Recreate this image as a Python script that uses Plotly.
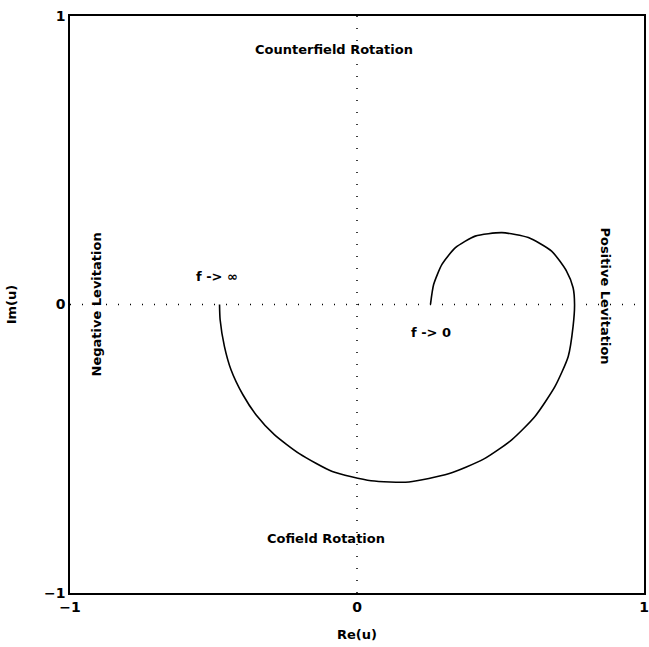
import plotly.graph_objects as go

# Curve u(f): real and imaginary parts, from f -> 0 (start) to f -> infinity (end)
re_u = [0.256, 0.267, 0.296, 0.343, 0.412, 0.505, 0.597, 0.678, 0.730, 0.753, 0.758,
        0.753, 0.736, 0.690, 0.620, 0.539, 0.441, 0.319, 0.181, 0.049, -0.086,
        -0.201, -0.288, -0.352, -0.398, -0.439, -0.462, -0.477, -0.479]
im_u = [0.0, 0.069, 0.139, 0.197, 0.237, 0.249, 0.232, 0.185, 0.116, 0.058, 0.0,
        -0.075, -0.180, -0.284, -0.388, -0.469, -0.536, -0.587, -0.615, -0.611, -0.579,
        -0.517, -0.451, -0.382, -0.312, -0.226, -0.145, -0.052, 0.0]

tick_vals = [-1, 0, 1]
tick_text = ["\u22121", "0", "1"]

labels = ["Counterfield Rotation", "Cofield Rotation", "f -> \u221e", "f -> 0",
          "Negative Levitation", "Positive Levitation"]
label_x = [-0.08, -0.108, -0.488, 0.259, -0.906, 0.865]
label_y = [0.885, -0.81, 0.097, -0.097, 0.0, 0.03]
label_angle = [0, 0, 0, 0, -90, 90]

FONT = "DejaVu Sans, sans-serif"

fig = go.Figure()
fig.add_trace(go.Scatter(x=re_u, y=im_u, mode="lines",
                         line=dict(color="black", width=1.6, shape="spline", smoothing=0.6),
                         showlegend=False, hoverinfo="skip"))

# dotted zero lines
fig.add_shape(type="line", x0=-1, x1=1, y0=0, y1=0, xref="x", yref="y",
              line=dict(color="black", width=1.5, dash="1px,11px"), layer="below")
fig.add_shape(type="line", x0=0, x1=0, y0=-1, y1=1, xref="x", yref="y",
              line=dict(color="black", width=1.5, dash="1px,11px"), layer="below")

for t, x, y, a in zip(labels, label_x, label_y, label_angle):
    fig.add_annotation(x=x, y=y, text=t, showarrow=False, textangle=a,
                       font=dict(family=FONT, size=13, color="black", weight="bold"),
                       xanchor="center", yanchor="middle")

axis_common = dict(range=[-1, 1], tickvals=tick_vals, ticktext=tick_text,
                   showgrid=False, zeroline=False, showline=True, mirror=True,
                   linecolor="black", linewidth=1.5, ticks="",
                   ticklabeloverflow="allow", automargin=False,
                   tickfont=dict(family=FONT, size=14, color="black", weight="bold"))

fig.update_layout(
    width=649, height=647,
    margin=dict(l=70, r=5, t=16, b=54, autoexpand=False),
    paper_bgcolor="white", plot_bgcolor="white",
    xaxis=dict(**axis_common,
               title=dict(text="Re(u)", standoff=16,
                          font=dict(family=FONT, size=13, color="black", weight="bold"))),
    yaxis=dict(**axis_common,
               title=dict(text="Im(u)", standoff=24,
                          font=dict(family=FONT, size=13, color="black", weight="bold"))),
)

fig.write_html("out.html")
